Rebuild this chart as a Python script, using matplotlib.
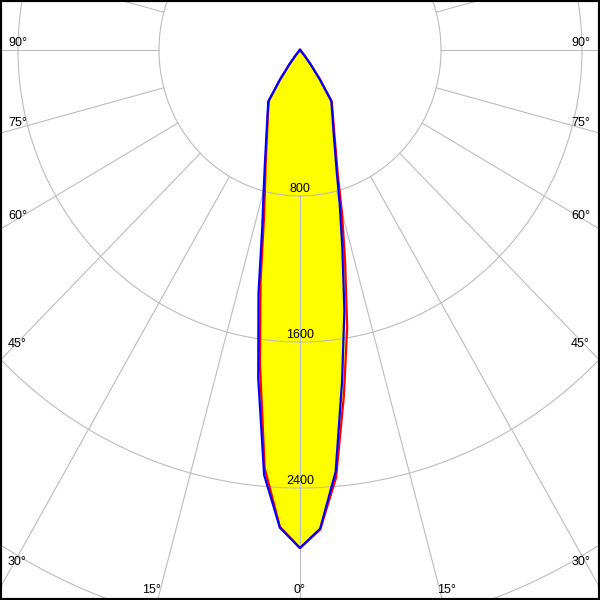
import numpy as np
import matplotlib.pyplot as plt

# luminous intensity (cd) per gamma angle
angles = [0, 2.5, 5, 7.5, 10, 12.5, 15, 17.5, 20, 22.5, 25, 27.5, 30, 32.5, 35, 37.5, 40, 42.5, 45, 90]
blue_left = [2729, 2620, 2337, 1815, 1357, 988, 797, 664, 568, 497, 442, 399, 364, 336, 200, 100, 40, 10, 0, 0]
blue_right = [2729, 2625, 2320, 1830, 1450, 1110, 870, 690, 580, 500, 442, 398, 360, 330, 192, 95, 38, 10, 0, 0]
red_left = [2729, 2615, 2300, 1740, 1290, 945, 765, 648, 556, 488, 436, 394, 358, 328, 192, 95, 38, 10, 0, 0]
red_right = [2729, 2630, 2351, 1909, 1542, 1181, 919, 712, 596, 513, 452, 404, 366, 336, 200, 100, 40, 10, 0, 0]

rings = [800, 1600, 2400, 3200, 4000]
ring_labels = ['800', '1600', '2400']
spoke_step = 15

# angle labels: text, x px, baseline px, alignment
edge_labels = [('90°', 8, 45.5, 'left'), ('75°', 8, 126, 'left'), ('60°', 8, 219, 'left'),
               ('45°', 8, 347, 'left'), ('30°', 8, 565, 'left'),
               ('90°', 590, 45.5, 'right'), ('75°', 590, 126, 'right'), ('60°', 590, 219, 'right'),
               ('45°', 590, 347, 'right'), ('30°', 590, 565, 'right'),
               ('15°', 151.5, 593, 'center'), ('0°', 299.5, 593, 'center'), ('15°', 446.5, 593, 'center')]

sx = 0.17625  # px per cd horizontally
sy = 0.1825   # px per cd vertically


def outline(left, right):
    a = np.radians(angles)
    left = np.array(left, float)
    right = np.array(right, float)
    xr, yr = right * np.sin(a), -right * np.cos(a)
    xl, yl = -left * np.sin(a), -left * np.cos(a)
    x = np.concatenate([xr[::-1], xl[1:]])
    y = np.concatenate([yr[::-1], yl[1:]])
    return x, y


plt.rcParams['font.family'] = ['Liberation Sans', 'DejaVu Sans']
fig = plt.figure(figsize=(6, 6), dpi=100)
ax = fig.add_axes([0, 0, 1, 1])
ax.set_xlim(-300 / sx, 300 / sx)
ax.set_ylim(-550 / sy, 50 / sy)
ax.set_xticks([])
ax.set_yticks([])
for s in ax.spines.values():
    s.set_linewidth(3)
    s.set_color('black')

bx, by = outline(blue_left, blue_right)
rx, ry = outline(red_left, red_right)
ax.fill(bx, by, color='#ffff00', lw=0, zorder=1)
ax.fill(rx, ry, color='#ffff00', lw=0, zorder=1)

grid_c = '#bcbcbc'
t = np.linspace(0, 2 * np.pi, 720)
for r in rings:
    ax.plot(r * np.sin(t), -r * np.cos(t), color=grid_c, lw=0.8, zorder=2)
for k in range(0, 360, spoke_step):
    a = np.radians(k)
    ax.plot([rings[0] * np.sin(a), 6000 * np.sin(a)], [-rings[0] * np.cos(a), -6000 * np.cos(a)],
            color=grid_c, lw=0.8, zorder=2)

ax.plot(rx, ry, color='#ff0000', lw=1.6, zorder=3)
ax.plot(bx, by, color='#0000ff', lw=1.6, zorder=4)

for r, lab in zip(rings, ring_labels):
    ax.text(0, -r + 4 / sy, lab, ha='center', va='baseline', fontsize=9, color='black', zorder=5)

for txt, px, py, ha in edge_labels:
    ax.text(px / 600, 1 - py / 600, txt, transform=ax.transAxes, ha=ha, va='baseline',
            fontsize=9, color='black', zorder=5)

plt.savefig('out.png', dpi=100)
